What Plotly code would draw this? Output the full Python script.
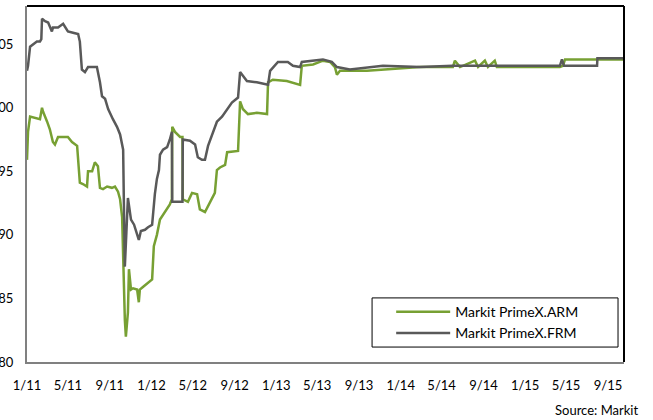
import plotly.graph_objects as go

frm_dates = ["2011-01-01","2011-01-04","2011-01-10","2011-01-19","2011-01-30","2011-02-08","2011-02-12","2011-02-14",
             "2011-02-23","2011-03-04","2011-03-15","2011-03-18","2011-04-02","2011-04-17","2011-05-01","2011-05-16",
             "2011-05-31","2011-06-05","2011-06-11","2011-06-20","2011-06-29","2011-07-14","2011-07-25","2011-08-03",
             "2011-08-09","2011-08-18","2011-08-27","2011-09-10","2011-09-22","2011-10-01","2011-10-10","2011-10-12",
             "2011-10-15","2011-10-24","2011-11-02","2011-11-11","2011-11-25","2011-12-01","2011-12-13","2011-12-22",
             "2012-01-03","2012-01-11","2012-01-17","2012-01-23","2012-01-26","2012-02-04","2012-02-16","2012-02-24",
             "2012-03-01","2012-03-02","2012-04-01","2012-04-02","2012-04-23","2012-05-08","2012-05-16","2012-05-28",
             "2012-06-06","2012-06-15","2012-06-29","2012-07-11","2012-07-26","2012-08-10","2012-08-24","2012-09-11",
             "2012-09-17","2012-10-07","2012-11-05","2012-12-08","2012-12-14","2013-01-06","2013-02-04","2013-02-19",
             "2013-03-12","2013-03-17","2013-04-30","2013-05-18","2013-06-13","2013-06-28","2013-08-05","2013-11-10",
             "2014-02-26","2014-06-03","2014-10-19","2015-04-13","2015-04-19","2015-04-25","2015-07-31","2015-08-01",
             "2015-10-18"]
frm_values = [102.9,103.3,104.8,105.0,105.2,105.2,105.4,107.0,
              106.8,106.7,106.0,106.3,106.3,106.6,106.0,105.9,
              105.8,105.2,103.0,102.8,103.2,103.2,103.2,102.0,
              100.9,100.7,99.9,99.1,98.5,97.9,96.7,92.8,
              87.5,92.9,91.2,90.8,89.6,90.3,90.4,90.6,
              90.8,93.2,94.4,95.1,96.3,96.7,96.9,97.5,
              98.1,92.6,92.6,97.5,97.4,97.1,96.1,95.9,
              95.9,97.0,98.1,98.9,99.3,99.9,100.4,100.8,
              102.8,102.1,102.0,101.8,102.9,103.6,103.6,103.3,
              103.2,103.6,103.7,103.8,103.6,103.2,103.0,103.3,
              103.2,103.3,103.3,103.3,103.8,103.3,103.3,103.9,
              103.9]

arm_dates = ["2011-01-01","2011-01-04","2011-01-10","2011-01-30","2011-02-08","2011-02-14","2011-02-17","2011-03-01",
             "2011-03-09","2011-03-18","2011-03-24","2011-04-02","2011-04-17","2011-05-01","2011-05-13","2011-05-28",
             "2011-06-05","2011-06-14","2011-06-26","2011-06-29","2011-07-11","2011-07-19","2011-07-28","2011-08-03",
             "2011-08-12","2011-08-24","2011-09-07","2011-09-16","2011-09-25","2011-10-01","2011-10-07","2011-10-10",
             "2011-10-15","2011-10-18","2011-10-24","2011-10-27","2011-11-02","2011-11-08","2011-11-20","2011-11-25",
             "2011-11-28","2011-12-07","2011-12-22","2012-01-03","2012-01-08","2012-01-17","2012-01-26","2012-02-10",
             "2012-02-24","2012-03-01","2012-03-02","2012-03-10","2012-03-25","2012-04-01","2012-04-02","2012-04-17",
             "2012-04-29","2012-05-14","2012-05-22","2012-06-06","2012-06-21","2012-07-05","2012-07-11","2012-07-20",
             "2012-08-04","2012-08-10","2012-09-11","2012-09-17","2012-09-25","2012-10-10","2012-11-05","2012-12-05",
             "2012-12-08","2012-12-22","2013-02-01","2013-03-12","2013-03-17","2013-04-19","2013-05-18","2013-06-08",
             "2013-06-22","2013-06-28","2013-07-07","2013-09-24","2014-02-26","2014-06-03","2014-06-09","2014-06-24",
             "2014-08-07","2014-08-16","2014-09-05","2014-09-14","2014-10-04","2014-10-10","2015-04-13","2015-04-22",
             "2015-04-28","2015-10-18"]
arm_values = [95.9,98.1,99.3,99.2,99.1,100.0,99.7,98.9,
              98.3,97.3,97.1,97.7,97.7,97.7,97.3,97.0,
              94.1,94.0,93.8,95.0,95.0,95.7,95.4,93.7,
              93.6,93.8,93.7,93.8,93.4,92.8,91.4,87.8,
              83.3,82.0,83.9,87.3,85.7,85.8,85.7,84.7,
              85.7,85.9,86.2,86.5,89.1,90.0,91.2,91.8,
              92.4,92.8,98.5,98.1,97.7,97.7,92.8,92.6,
              93.3,93.2,92.0,91.8,92.6,93.3,95.1,95.3,
              95.5,96.5,96.6,100.5,99.9,99.5,99.6,99.5,
              102.0,102.2,102.1,101.8,103.3,103.4,103.7,103.6,
              103.2,102.6,102.9,102.9,103.2,103.2,103.7,103.2,
              103.7,103.2,103.7,103.2,103.7,103.2,103.2,103.3,
              103.8,103.8]

tick_dates = ["2011-01-01","2011-05-01","2011-09-01","2012-01-01","2012-05-01","2012-09-01","2013-01-01",
              "2013-05-01","2013-09-01","2014-01-01","2014-05-01","2014-09-01","2015-01-01","2015-05-01","2015-09-01"]
tick_labels = ["1/11","5/11","9/11","1/12","5/12","9/12","1/13","5/13","9/13","1/14","5/14","9/14","1/15","5/15","9/15"]
y_ticks = [80, 85, 90, 95, 100, 105]

series_names = ["Markit PrimeX.ARM", "Markit PrimeX.FRM"]

GREEN = "#77A033"
GRAY = "#595959"
FONT = "Lato"

fig = go.Figure()
fig.add_trace(go.Scatter(x=arm_dates, y=arm_values, mode="lines", name=series_names[0],
                         line=dict(color=GREEN, width=2.5)))
fig.add_trace(go.Scatter(x=frm_dates, y=frm_values, mode="lines", name=series_names[1],
                         line=dict(color=GRAY, width=2.5)))

fig.update_layout(
    width=653, height=420,
    margin=dict(l=27, r=29, t=6, b=58, autoexpand=False),
    paper_bgcolor="white", plot_bgcolor="white",
    font=dict(family=FONT, size=13, color="black"),
    showlegend=True,
    legend=dict(x=0.61, y=0.185, xanchor="left", yanchor="top",
                bgcolor="rgba(0,0,0,0)", borderwidth=0,
                font=dict(family=FONT, size=14, color="black"),
                itemwidth=54, tracegroupgap=0),
    xaxis=dict(type="date", range=["2011-01-01", "2015-10-18"],
               tickvals=tick_dates, ticktext=tick_labels,
               showgrid=False, zeroline=False, ticks="", automargin=False,
               showline=True, linecolor="#808080", linewidth=2,
               ticklabelstandoff=10, tickfont=dict(size=13)),
    yaxis=dict(range=[80, 108], tickvals=y_ticks,
               showgrid=False, zeroline=False, ticks="", automargin=False,
               showline=True, linecolor="#808080", linewidth=2,
               ticklabelstandoff=9, tickfont=dict(size=13)),
)

# frame: top and right in black
fig.add_shape(type="line", xref="paper", yref="paper", x0=0, x1=1, y0=1, y1=1,
              line=dict(color="black", width=2))
fig.add_shape(type="line", xref="paper", yref="paper", x0=1, x1=1, y0=0, y1=1,
              line=dict(color="black", width=2))
# legend box
fig.add_shape(type="rect", xref="paper", yref="paper", x0=0.578, x1=0.990, y0=0.042, y1=0.18,
              line=dict(color="black", width=1), fillcolor="rgba(0,0,0,0)", layer="above")

fig.add_annotation(text="Source: Markit", xref="paper", yref="paper", x=1.027, y=-0.135,
                   xanchor="right", yanchor="middle", showarrow=False,
                   font=dict(family=FONT, size=13, color="black"))

fig.write_html("out.html", config={"displayModeBar": False},
               post_script="document.body.style.margin='0';")
